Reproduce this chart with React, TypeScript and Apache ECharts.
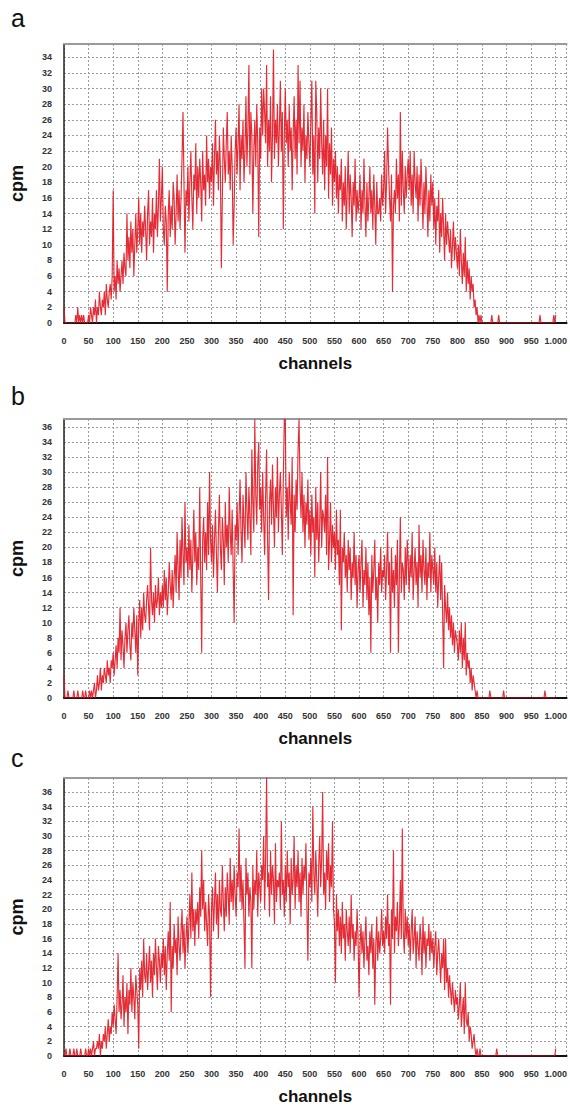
import React, { useEffect, useRef } from "react";
import * as echarts from "echarts";

// counts per minute, channels 0..1000 sampled every 2 channels (25 values = 50 channels per row)
const CHANNEL_STEP = 2;

const panelA = [
  2, 0, 0, 0, 0, 0, 0, 0, 0, 0, 0, 0, 1, 0, 2, 0, 1, 0, 1, 0, 1, 0, 0, 0, 0,
  1, 0, 2, 1, 0, 2, 1, 3, 0, 2, 1, 4, 2, 1, 3, 2, 4, 1, 5, 3, 2, 4, 5, 3, 6,
  17, 4, 6, 3, 8, 5, 7, 4, 6, 8, 5, 9, 7, 6, 14, 8, 11, 7, 13, 9, 12, 6, 10, 14, 9,
  12, 16, 10, 14, 9, 13, 11, 15, 12, 8, 14, 17, 10, 13, 11, 16, 9, 14, 12, 17, 11, 15, 21, 13, 16,
  20, 12, 10, 15, 13, 4, 14, 17, 11, 15, 12, 18, 16, 10, 14, 19, 13, 17, 12, 16, 21, 27, 18, 9, 17,
  15, 20, 13, 18, 22, 16, 12, 19, 17, 23, 14, 20, 16, 21, 18, 13, 22, 17, 19, 15, 24, 18, 21, 16, 20,
  18, 23, 15, 21, 26, 19, 22, 17, 24, 20, 7, 16, 25, 21, 18, 23, 27, 19, 22, 17, 24, 20, 10, 15, 22,
  25, 19, 23, 28, 17, 24, 21, 26, 18, 22, 29, 20, 25, 33, 19, 27, 24, 14, 22, 26, 20, 28, 23, 11, 25,
  21, 30, 24, 30, 27, 23, 33, 20, 26, 22, 29, 18, 24, 35, 21, 26, 23, 28, 20, 25, 31, 22, 27, 12, 24,
  30, 23, 26, 20, 28, 22, 25, 17, 24, 29, 21, 26, 19, 33, 23, 31, 20, 25, 22, 28, 18, 24, 21, 27, 23,
  20, 26, 31, 19, 24, 14, 31, 27, 18, 25, 21, 30, 23, 19, 26, 17, 24, 20, 30, 16, 23, 19, 25, 15, 21,
  18, 22, 16, 20, 14, 19, 17, 21, 13, 18, 15, 20, 12, 17, 22, 14, 19, 16, 11, 18, 15, 21, 13, 17, 14,
  16, 19, 12, 17, 14, 21, 15, 11, 18, 13, 16, 20, 14, 17, 12, 19, 15, 10, 18, 14, 14, 16, 13, 19, 15,
  17, 22, 14, 18, 25, 20, 16, 13, 19, 4, 15, 17, 14, 21, 16, 19, 13, 27, 15, 22, 17, 14, 20, 16, 19,
  21, 17, 22, 15, 19, 14, 22, 18, 16, 20, 13, 19, 15, 21, 17, 12, 18, 14, 20, 16, 11, 17, 13, 19, 15,
  18, 12, 16, 10, 15, 13, 17, 9, 14, 11, 16, 12, 8, 14, 10, 13, 11, 9, 12, 7, 10, 13, 8, 11, 9,
  7, 10, 6, 12, 8, 5, 9, 6, 11, 4, 8, 5, 7, 3, 6, 4, 5, 2, 3, 1, 2, 0, 1, 0, 1,
  0, 0, 0, 0, 0, 0, 0, 0, 0, 0, 1, 0, 0, 0, 0, 0, 0, 1, 0, 0, 0, 0, 0, 0, 0,
  0, 0, 0, 0, 0, 0, 0, 0, 0, 0, 0, 0, 0, 0, 0, 0, 0, 0, 0, 0, 0, 0, 0, 0, 0,
  0, 0, 0, 0, 0, 0, 0, 0, 0, 1, 0, 0, 0, 0, 0, 0, 0, 0, 0, 0, 0, 0, 0, 1, 0,
  1,
];

const panelB = [
  3, 0, 0, 0, 1, 0, 0, 0, 0, 0, 1, 0, 0, 0, 1, 0, 0, 0, 0, 1, 0, 0, 1, 0, 0,
  0, 1, 0, 1, 0, 1, 2, 0, 1, 3, 1, 2, 4, 1, 3, 2, 4, 3, 2, 5, 3, 4, 2, 5, 4,
  6, 3, 5, 7, 4, 8, 6, 12, 5, 9, 7, 4, 8, 10, 6, 9, 11, 7, 5, 10, 8, 12, 9, 6, 11,
  3, 10, 13, 8, 12, 9, 14, 11, 10, 13, 15, 12, 9, 20, 13, 11, 14, 10, 15, 12, 13, 16, 11, 14, 12,
  15, 12, 17, 13, 16, 11, 14, 18, 15, 13, 17, 12, 16, 19, 14, 22, 17, 13, 21, 16, 24, 19, 15, 26, 18,
  20, 16, 23, 17, 21, 14, 19, 25, 18, 22, 15, 20, 17, 28, 16, 6, 21, 24, 18, 22, 17, 26, 19, 30, 21,
  18, 23, 16, 21, 25, 19, 14, 22, 27, 20, 17, 24, 21, 15, 26, 20, 23, 18, 28, 22, 19, 25, 17, 10, 23,
  21, 26, 19, 24, 29, 22, 18, 27, 23, 20, 30, 25, 21, 28, 24, 19, 33, 26, 22, 37, 27, 23, 31, 34, 25,
  28, 22, 30, 24, 19, 27, 33, 21, 13, 26, 29, 23, 31, 25, 20, 28, 24, 32, 22, 27, 30, 25, 19, 29, 37,
  37, 24, 28, 21, 30, 26, 23, 32, 11, 27, 22, 29, 25, 33, 37, 28, 24, 30, 22, 27, 20, 26, 23, 29, 21,
  25, 19, 27, 22, 24, 16, 28, 21, 26, 18, 23, 30, 20, 25, 24, 22, 27, 19, 32, 17, 21, 26, 18, 23, 20,
  22, 17, 25, 19, 21, 15, 25, 9, 20, 18, 22, 16, 19, 14, 21, 17, 20, 13, 18, 16, 22, 15, 19, 12, 17,
  19, 14, 18, 21, 12, 17, 15, 20, 13, 18, 11, 16, 6, 19, 14, 17, 21, 13, 16, 10, 18, 15, 20, 14, 17,
  16, 19, 13, 17, 22, 15, 18, 6, 20, 14, 17, 12, 19, 15, 21, 6, 16, 24, 14, 18, 17, 13, 20, 15, 21,
  18, 14, 19, 16, 22, 13, 17, 20, 15, 18, 12, 23, 16, 19, 14, 21, 17, 15, 20, 13, 18, 16, 22, 14, 19,
  17, 15, 20, 14, 18, 12, 16, 19, 13, 18, 11, 4, 15, 12, 10, 14, 9, 12, 8, 11, 7, 10, 6, 9, 8,
  7, 5, 9, 6, 10, 4, 8, 5, 10, 3, 6, 4, 5, 2, 4, 1, 3, 2, 1, 0, 1, 0, 0, 0, 0,
  0, 0, 0, 0, 0, 0, 0, 0, 1, 0, 0, 0, 0, 0, 0, 0, 0, 0, 0, 0, 0, 0, 1, 0, 0,
  0, 0, 0, 0, 0, 0, 0, 0, 0, 0, 0, 0, 0, 0, 0, 0, 0, 0, 0, 0, 0, 0, 0, 0, 0,
  0, 0, 0, 0, 0, 0, 0, 0, 0, 0, 0, 0, 0, 0, 1, 0, 0, 0, 0, 0, 0, 0, 0, 0, 0,
  0,
];

const panelC = [
  0, 0, 1, 0, 0, 0, 1, 0, 0, 0, 1, 0, 0, 1, 0, 0, 0, 1, 0, 0, 0, 0, 1, 0, 0,
  1, 0, 1, 0, 1, 2, 0, 1, 1, 2, 1, 3, 0, 2, 1, 3, 2, 4, 1, 3, 5, 2, 4, 3, 6,
  4, 7, 5, 3, 8, 14, 6, 9, 5, 7, 11, 4, 8, 6, 10, 3, 9, 7, 12, 6, 10, 8, 5, 11, 9,
  7, 1, 12, 9, 13, 8, 16, 11, 10, 14, 9, 12, 15, 10, 13, 8, 14, 11, 16, 12, 9, 15, 13, 10, 14,
  12, 16, 11, 15, 9, 14, 17, 13, 21, 6, 15, 12, 18, 14, 16, 11, 19, 15, 13, 17, 20, 14, 18, 12, 16,
  19, 14, 18, 22, 16, 25, 17, 20, 15, 20, 18, 21, 16, 23, 19, 28, 20, 24, 17, 21, 18, 15, 22, 19, 8,
  20, 23, 17, 21, 25, 18, 22, 16, 24, 20, 19, 26, 21, 17, 23, 19, 25, 22, 18, 27, 21, 24, 20, 26, 22,
  19, 25, 23, 31, 21, 26, 20, 24, 18, 12, 27, 22, 25, 19, 23, 21, 12, 26, 20, 24, 22, 28, 19, 25, 23,
  21, 26, 24, 30, 20, 27, 38, 23, 25, 19, 28, 22, 26, 24, 18, 29, 21, 24, 23, 25, 20, 32, 22, 24, 19,
  26, 21, 28, 23, 25, 18, 27, 22, 24, 30, 20, 26, 23, 28, 21, 25, 19, 27, 22, 26, 24, 29, 20, 13, 25,
  23, 27, 21, 34, 25, 22, 28, 24, 19, 26, 30, 23, 27, 36, 22, 25, 20, 28, 24, 29, 21, 26, 23, 32, 20,
  18, 10, 22, 17, 20, 15, 19, 14, 21, 16, 18, 13, 20, 17, 15, 19, 14, 22, 16, 18, 13, 17, 15, 20, 16,
  8, 15, 18, 14, 17, 12, 16, 19, 13, 15, 11, 17, 14, 18, 12, 16, 7, 15, 19, 13, 17, 14, 16, 20, 15,
  17, 14, 19, 16, 22, 15, 18, 7, 20, 16, 28, 14, 19, 17, 21, 15, 18, 24, 16, 31, 17, 14, 20, 16, 19,
  15, 18, 13, 17, 20, 14, 16, 19, 12, 17, 15, 13, 18, 16, 11, 19, 14, 17, 12, 16, 15, 18, 13, 17, 14,
  16, 12, 15, 17, 11, 14, 16, 13, 10, 14, 12, 16, 9, 16, 10, 12, 8, 11, 9, 7, 10, 8, 6, 9, 7,
  8, 5, 7, 10, 4, 6, 8, 3, 10, 5, 4, 6, 2, 4, 3, 1, 2, 3, 1, 0, 1, 0, 0, 1, 0,
  0, 0, 0, 0, 0, 0, 0, 0, 0, 0, 0, 0, 0, 0, 0, 1, 0, 0, 0, 0, 0, 0, 0, 0, 0,
  0, 0, 0, 0, 0, 0, 0, 0, 0, 0, 0, 0, 0, 0, 0, 0, 0, 0, 0, 0, 0, 0, 0, 0, 0,
  0, 0, 0, 0, 0, 0, 0, 0, 0, 0, 0, 0, 0, 0, 0, 0, 0, 0, 0, 0, 0, 0, 0, 0, 0,
  1,
];

const panelLetters = ["a", "b", "c"];
const panelSeries = [panelA, panelB, panelC];
const xAxisName = "channels";
const yAxisName = "cpm";
const xMin = 0;
const xMax = 1022;
const xInterval = 50;
const yInterval = 2;
const yMaxes = [35.7, 37.05, 37.9];

// layout
const grids = [
  { left: 64, top: 44, width: 506, height: 279 },
  { left: 64, top: 419, width: 506, height: 279 },
  { left: 64, top: 778, width: 506, height: 284 },
];
const letterPos = [
  { x: 11, y: 19 },
  { x: 11, y: 397 },
  { x: 11, y: 759 },
];

const fmtX = (v: number) => {
  if (v % xInterval !== 0) return "";
  if (v >= 1000) return "1." + String(v - 1000).padStart(3, "0");
  return String(v);
};
const fmtY = (v: number) => (Math.abs(v % yInterval) < 1e-9 ? String(v) : "");

export default function App() {
  const ref = useRef<HTMLDivElement>(null);
  useEffect(() => {
    if (!ref.current) return;
    const chart = echarts.init(ref.current, null, { renderer: "svg" });
    const font = "'Liberation Sans', Arial, sans-serif";
    const xAxes: any[] = [];
    const yAxes: any[] = [];
    const series: any[] = [];
    grids.forEach((g, i) => {
      xAxes.push({
        type: "value",
        gridIndex: i,
        min: xMin,
        max: xMax,
        interval: xInterval,
        name: xAxisName,
        nameLocation: "middle",
        nameGap: 32,
        nameTextStyle: { fontFamily: font, fontWeight: "bold", fontSize: 17, color: "#111" },
        axisLine: { show: true, onZero: false, lineStyle: { color: "#111", width: 2 } },
        axisTick: { show: false },
        axisLabel: {
          formatter: fmtX,
          fontFamily: font,
          fontWeight: "bold",
          fontSize: 9,
          color: "#333",
          margin: 13,
          showMaxLabel: false,
        },
        splitLine: { show: true, lineStyle: { color: "#9a9a9a", type: [2, 2], width: 1 } },
      });
      xAxes.push({
        type: "value",
        gridIndex: i,
        position: "top",
        min: xMin,
        max: xMax,
        axisLine: { show: true, onZero: false, lineStyle: { color: "#9a9a9a", width: 2 } },
        axisTick: { show: false },
        axisLabel: { show: false },
        splitLine: { show: false },
      });
      yAxes.push({
        type: "value",
        gridIndex: i,
        min: 0,
        max: yMaxes[i],
        interval: yInterval,
        name: yAxisName,
        nameLocation: "middle",
        nameRotate: 90,
        nameGap: 38,
        nameTextStyle: { fontFamily: font, fontWeight: "bold", fontSize: 18, color: "#111" },
        axisLine: { show: true, lineStyle: { color: "#222", width: 1.5 } },
        axisTick: { show: false },
        axisLabel: {
          formatter: fmtY,
          fontFamily: font,
          fontWeight: "bold",
          fontSize: 9,
          color: "#333",
          margin: 12,
          showMaxLabel: false,
        },
        splitLine: { show: true, lineStyle: { color: "#9a9a9a", type: [2, 2], width: 1 } },
      });
      series.push({
        type: "line",
        xAxisIndex: i * 2,
        yAxisIndex: i,
        showSymbol: false,
        symbol: "none",
        data: panelSeries[i].map((v, k) => [k * CHANNEL_STEP, v]),
        lineStyle: { color: "#e0101a", width: 1.15, opacity: 0.88 },
        z: 3,
      });
    });
    chart.setOption({
      animation: false,
      backgroundColor: "#ffffff",
      grid: grids.map((g) => ({ ...g, containLabel: false })),
      xAxis: xAxes,
      yAxis: yAxes,
      series,
      graphic: panelLetters.map((t, i) => ({
        type: "text",
        left: letterPos[i].x,
        top: letterPos[i].y - 14,
        style: { text: t, fontFamily: font, fontSize: 25, fill: "#111" },
      })),
    });
    return () => chart.dispose();
  }, []);
  return (
    <div
      ref={ref}
      style={{ position: "absolute", left: 0, top: 0, width: 570, height: 1106, background: "#fff" }}
    />
  );
}
